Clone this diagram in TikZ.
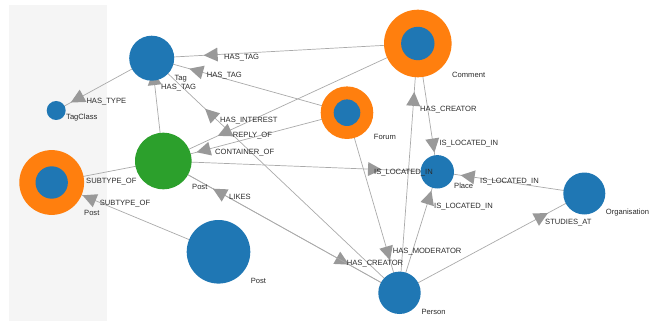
\documentclass[tikz,border=0pt]{standalone}
\usepackage{fontspec}
\setmainfont{Liberation Sans}
\usetikzlibrary{decorations.markings}
\definecolor{nblue}{HTML}{1F77B4}
\definecolor{norange}{HTML}{FF7F0E}
\definecolor{ngreen}{HTML}{2CA02C}
\definecolor{linegray}{HTML}{AAAAAA}
\definecolor{arrowgray}{HTML}{999999}
\definecolor{textgray}{HTML}{2A2A2A}
\definecolor{panelgray}{HTML}{F5F5F5}
\pgfdeclarelayer{bg}
\pgfdeclarelayer{edges}
\pgfsetlayers{bg,edges,main}
\begin{document}
\begin{tikzpicture}[x=1pt,y=-1pt,
  dot/.style={circle, inner sep=0pt, minimum size=#1, draw=none},
  rel/.style={draw=linegray, line width=0.7pt,
    postaction={decorate, decoration={markings,
      mark=at position #1 with {\fill[arrowgray] (7,0) -- (-7,7) -- (-7,-7) -- cycle;}}}},
  lbl/.style={anchor=base west, inner sep=0pt, text=textgray, font=\fontsize{7.6}{9}\selectfont}]
\useasboundingbox (0,0) rectangle (657,321);
\begin{pgfonlayer}{bg}
  \fill[panelgray] (9,5) rectangle (107,321);
\end{pgfonlayer}

% nodes
\node[dot=45pt, fill=nblue] (tag) at (151.7,58.2) {};
\node[dot=19pt, fill=nblue] (tagclass) at (56.2,110.5) {};
\node[dot=67.6pt, fill=norange] (comment) at (417.8,43.5) {};
\node[dot=33.4pt, fill=nblue] (commentcore) at (comment) {};
\node[dot=52.6pt, fill=norange] (forum) at (347,112.7) {};
\node[dot=26.6pt, fill=nblue] (forumcore) at (forum) {};
\node[dot=56.6pt, fill=ngreen] (postg) at (163.3,161) {};
\node[dot=64.8pt, fill=norange] (posto) at (51.7,182.5) {};
\node[dot=32.4pt, fill=nblue] (postocore) at (posto) {};
\node[dot=63.6pt, fill=nblue] (postb) at (218.5,251.8) {};
\node[dot=33.4pt, fill=nblue] (place) at (437.3,171.8) {};
\node[dot=42pt, fill=nblue] (org) at (584.3,193.5) {};
\node[dot=42.4pt, fill=nblue] (person) at (399.5,292.8) {};

% edges
\begin{pgfonlayer}{edges}
  \draw[rel=-59pt] (comment.center) -- (tag.center);
  \draw[rel=-46pt] (forum.center) -- (tag.center);
  \draw[rel=-20pt] (postg.center) -- (tag.center);
  \draw[rel=-23.4pt] (tag.center) -- (tagclass.center);
  \draw[rel=-80.5pt] (person.center) -- (tag.center);
  \draw[rel=-67pt] (comment.center) -- (postg.center);
  \draw[rel=-41.4pt] (forum.center) -- (postg.center);
  \draw[rel=-24pt] (postg.center) -- (posto.center);
  \draw[rel=-40.4pt] (postb.center) -- (posto.center);
  \draw[rel=-62.3pt] (postg.center) -- (place.center);
  \draw[rel=-26.5pt] (comment.center) -- (place.center);
  \draw[rel=-55.5pt] (person.center) -- (comment.center);
  \draw[rel=-40.9pt] (forum.center) -- (person.center);
  \draw[rel=-26.8pt] (person.center) -- (place.center);
  \draw[rel=-30.6pt] (org.center) -- (place.center);
  \draw[rel=-48.2pt] (person.center) -- (org.center);
  \draw[rel=-64.8pt] (postg.center) -- (person.center);
  \draw[rel=-63.8pt] (person.center) -- (postg.center);
\end{pgfonlayer}

% edge labels
\node[lbl] (l1) at (224,60) {HAS\_TAG};
\node[lbl] (l2) at (206.7,77.7) {HAS\_TAG};
\node[lbl] (l3) at (161,90) {HAS\_TAG};
\node[lbl] (l4) at (86.3,103.4) {HAS\_TYPE};
\node[lbl] (l5) at (220,122.7) {HAS\_INTEREST};
\node[lbl] (l6) at (232.7,137.7) {REPLY\_OF};
\node[lbl] (l7) at (215,154.4) {CONTAINER\_OF};
\node[lbl] (l8) at (420,111.4) {HAS\_CREATOR};
\node[lbl] (l9) at (439.3,146) {IS\_LOCATED\_IN};
\node[lbl] (l10) at (86,183.4) {SUBTYPE\_OF};
\node[lbl] (l11) at (229,200) {LIKES};
\node[lbl] (l12) at (99.7,205.7) {SUBTYPE\_OF};
\node[lbl] (l13) at (374,175) {IS\_LOCATED\_IN};
\node[lbl] (l14) at (480,183) {IS\_LOCATED\_IN};
\node[lbl] (l15) at (434,208) {IS\_LOCATED\_IN};
\node[lbl] (l16) at (545,224.4) {STUDIES\_AT};
\node[lbl] (l17) at (392.7,253.4) {HAS\_MODERATOR};
\node[lbl] (l18) at (346.7,265.7) {HAS\_CREATOR};

% node labels
\node[lbl] (t1) at (174.3,81) {Tag};
\node[lbl] (t2) at (66,120) {TagClass};
\node[lbl] (t3) at (452,77.4) {Comment};
\node[lbl] (t4) at (373.7,139.4) {Forum};
\node[lbl] (t5) at (192,189.7) {Post};
\node[lbl] (t6) at (84,215) {Post};
\node[lbl] (t7) at (250.7,283.7) {Post};
\node[lbl] (t8) at (454,188.4) {Place};
\node[lbl] (t9) at (605.7,214.7) {Organisation};
\node[lbl] (t10) at (421.3,314.4) {Person};
\end{tikzpicture}
\end{document}
